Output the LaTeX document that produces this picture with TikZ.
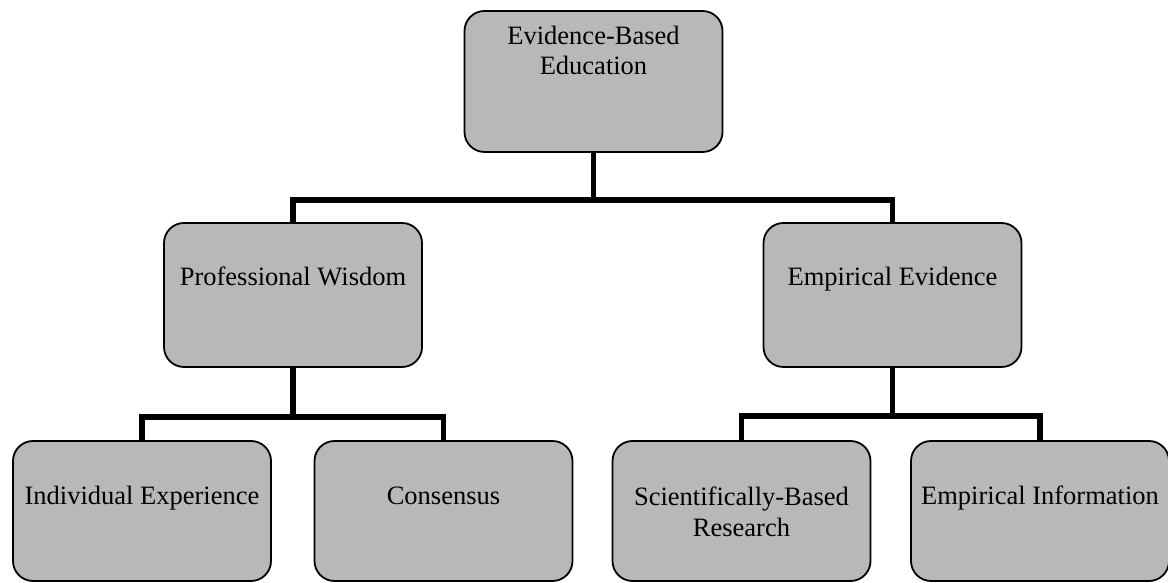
\documentclass[tikz,border=0pt]{standalone}
\usepackage{fontspec}
\setmainfont{Liberation Serif}
\usetikzlibrary{backgrounds}
\begin{document}
\begin{tikzpicture}[x=1pt,y=1pt,
  box/.style={draw=black, line width=1.8pt, fill=black!28, rounded corners=20pt,
              minimum width=258pt, inner sep=0pt},
  txt/.style={font=\fontsize{26.5}{30.5}\selectfont, inner sep=0pt, align=center},
  conn/.style={draw=black, line width=5.5pt}]
\useasboundingbox (0,0) rectangle (1168,583);
% boxes
\node[box, minimum height=141pt] (top)  at (593.5,501.5) {};
\node[box, minimum height=144pt] (pw)   at (293,288) {};
\node[box, minimum height=144pt] (ee)   at (892.5,288) {};
\node[box, minimum height=140pt] (ie)   at (142,72) {};
\node[box, minimum height=140pt] (cons) at (443.5,72) {};
\node[box, minimum height=140pt] (sbr)  at (741.5,72) {};
\node[box, minimum height=140pt] (ei)   at (1040,72) {};
% texts
\node[txt, anchor=north] (topT) at (593.5,557.5) {Evidence-Based\\Education};
\node[txt, anchor=base] (pwT) at (293,297) {Professional Wisdom};
\node[txt, anchor=base] (eeT) at (892.5,297) {Empirical Evidence};
\node[txt, anchor=base] (ieT) at (142,78) {Individual Experience};
\node[txt, anchor=base] (consT) at (443.5,78) {Consensus};
\node[txt, anchor=north] (sbrT) at (741.5,96) {Scientifically-Based\\Research};
\node[txt, anchor=base] (eiT) at (1040,78) {Empirical Information};
% junctions
\path (top.south) ++(0,-47) coordinate (j1);
\path (pw.south) ++(0,-49) coordinate (j2);
\path (ee.south) ++(0,-48) coordinate (j3);
\begin{scope}[on background layer]
  \fill[white] (0,0) rectangle (1168,583);
  \draw[conn] (top.south) -- (j1) -| (pw.north);
  \draw[conn] (j1) -| (ee.north);
  \draw[conn] (pw.south) -- (j2) -| (ie.north);
  \draw[conn] (j2) -| (cons.north);
  \draw[conn] (ee.south) -- (j3) -| (sbr.north);
  \draw[conn] (j3) -| (ei.north);
\end{scope}
\end{tikzpicture}
\end{document}
